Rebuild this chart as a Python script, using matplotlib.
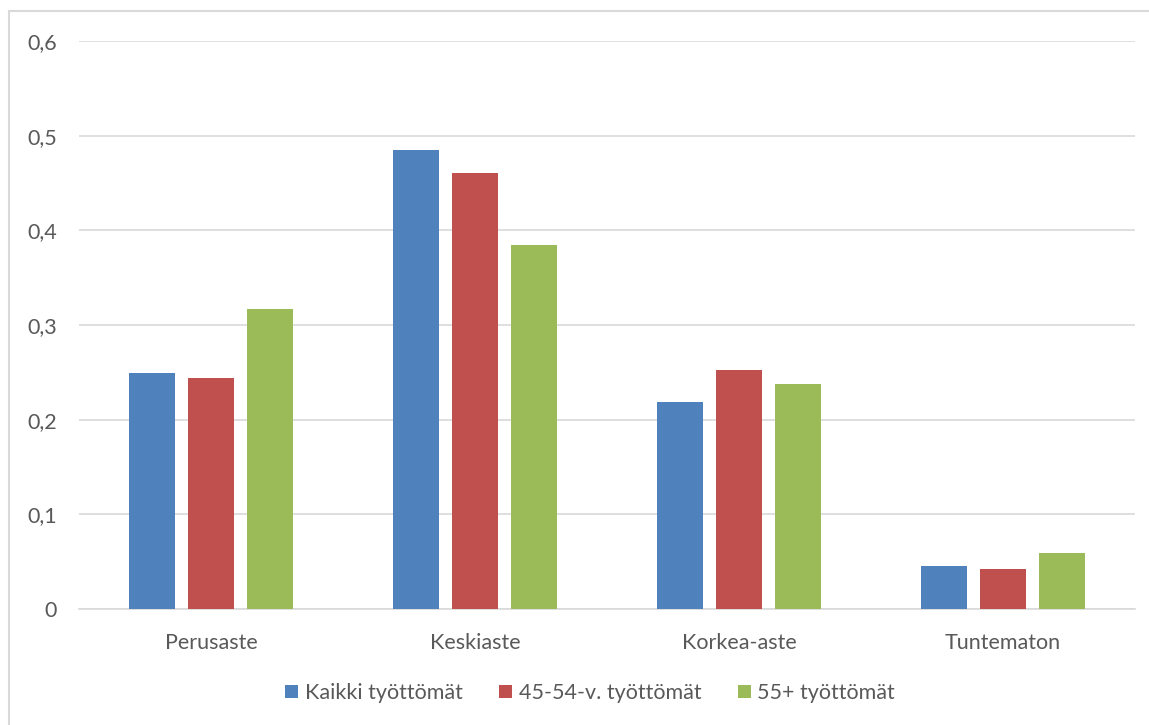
import numpy as np
import matplotlib
matplotlib.use('Agg')
import matplotlib.pyplot as plt
from matplotlib.patches import Rectangle

plt.rcParams['font.family'] = ['Lato', 'DejaVu Sans']

categories = ['Perusaste', 'Keskiaste', 'Korkea-aste', 'Tuntematon']
series_names = ['Kaikki työttömät', '45-54-v. työttömät', '55+ työttömät']
kaikki = [0.249, 0.485, 0.219, 0.045]
v45_54 = [0.244, 0.461, 0.252, 0.042]
v55 = [0.317, 0.385, 0.238, 0.059]
colors = ['#4F81BD', '#C0504D', '#9BBB59']
yticks = [0, 0.1, 0.2, 0.3, 0.4, 0.5, 0.6]
ytick_labels = ['0', '0,1', '0,2', '0,3', '0,4', '0,5', '0,6']

txt = '#595959'
grid = '#D9D9D9'
fs = 15.5

fig = plt.figure(figsize=(11.49, 7.25), dpi=100)
# chart border
fig.patches.append(Rectangle((9 / 1149, -0.01), 1.02, 1 - 11 / 725 + 0.01,
                             transform=fig.transFigure, fill=False,
                             edgecolor=grid, linewidth=1.5))

ax = fig.add_axes([79 / 1149, 1 - 609 / 725, (1135 - 79) / 1149, (609 - 41) / 725])

x = np.arange(len(categories))
w = 0.175
step = 0.222
for i, (vals, name) in enumerate(zip([kaikki, v45_54, v55], series_names)):
    ax.bar(x + (i - 1) * step, vals, w, color=colors[i], label=name, zorder=3)

ax.set_xlim(-0.5, len(categories) - 0.5)
ax.set_ylim(0, 0.6)
ax.set_yticks(yticks)
ax.set_yticklabels(ytick_labels)
ax.set_xticks(x)
ax.set_xticklabels(categories)
ax.grid(axis='y', color=grid, linewidth=1.2, zorder=0)
for s in ['top', 'right', 'left']:
    ax.spines[s].set_visible(False)
ax.spines['bottom'].set_color(grid)
ax.spines['bottom'].set_linewidth(1.2)
ax.tick_params(axis='both', length=0, labelsize=fs, colors=txt)
ax.tick_params(axis='y', pad=16)
ax.tick_params(axis='x', pad=17)

leg = ax.legend(loc='center', bbox_to_anchor=(0.484, -0.148), ncol=3, frameon=False,
                fontsize=fs, handlelength=0.6, handleheight=0.6,
                handletextpad=0.3, columnspacing=1.7)
for t in leg.get_texts():
    t.set_color(txt)

fig.savefig('out.png', dpi=100)
